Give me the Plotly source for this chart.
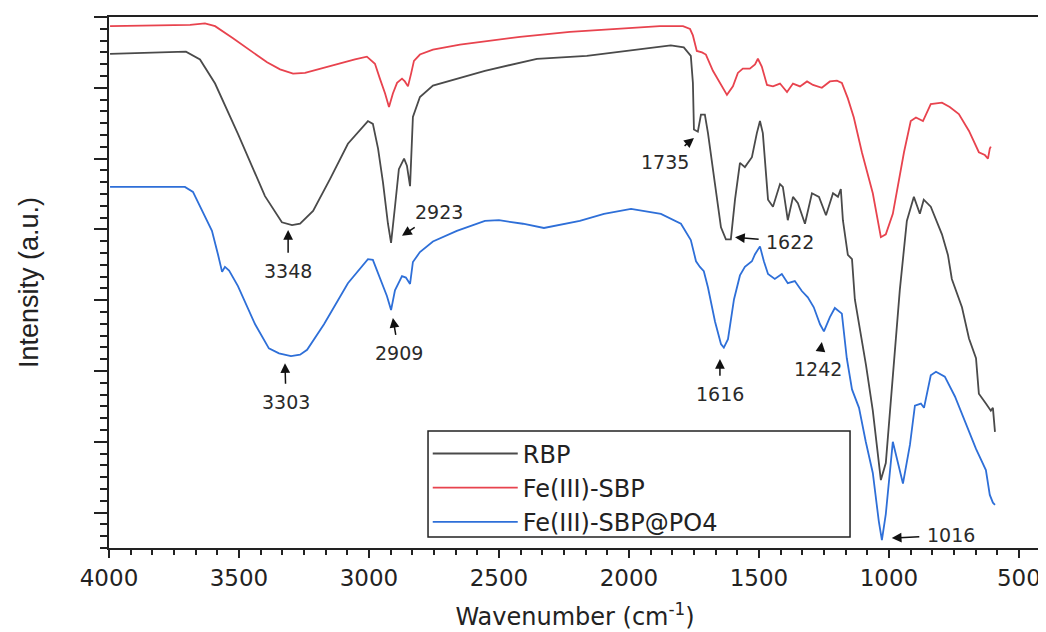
import plotly.graph_objects as go

# ---------------- data (wavenumber cm^-1, intensity a.u.) ----------------
wn_rbp = [3996, 3842, 3704, 3650, 3592, 3504, 3400, 3335, 3296, 3265, 3215, 3150, 3081, 3004,
          2985, 2965, 2946, 2927, 2915, 2900, 2885, 2865, 2854, 2842, 2831, 2804, 2754, 2554,
          2354, 2162, 1839, 1789, 1762, 1754, 1750, 1735, 1723, 1708, 1696, 1669, 1646, 1627,
          1608, 1592, 1573, 1554, 1527, 1508, 1496, 1485, 1465, 1446, 1419, 1408, 1389, 1369,
          1350, 1323, 1296, 1269, 1242, 1215, 1196, 1185, 1177, 1158, 1142, 1131, 1115, 1088,
          1062, 1031, 1012, 985, 958, 931, 904, 881, 866, 839, 796, 773, 758, 719, 692, 665,
          654, 627, 608, 600, 592]
int_rbp = [6.98, 7.00, 7.01, 6.90, 6.56, 5.85, 4.97, 4.60, 4.56, 4.58, 4.76, 5.21, 5.71, 6.03,
           5.99, 5.64, 5.16, 4.58, 4.31, 4.82, 5.35, 5.50, 5.40, 5.11, 6.09, 6.37, 6.53, 6.74,
           6.91, 6.95, 7.10, 7.07, 6.95, 6.57, 5.91, 5.88, 6.12, 6.12, 5.86, 5.14, 4.53, 4.36,
           4.36, 4.92, 5.44, 5.38, 5.52, 5.86, 6.03, 5.86, 4.92, 4.82, 5.14, 5.10, 4.63, 4.96,
           4.87, 4.58, 5.01, 4.96, 4.70, 5.01, 4.96, 5.07, 4.63, 4.14, 4.08, 3.51, 3.16, 2.58,
           1.94, 0.96, 1.20, 2.42, 3.65, 4.62, 4.96, 4.72, 4.92, 4.82, 4.43, 4.14, 3.80, 3.40,
           2.96, 2.68, 2.18, 2.04, 1.94, 1.98, 1.64]

wn_sbp = [3996, 3842, 3688, 3631, 3592, 3523, 3458, 3392, 3342, 3292, 3246, 3188, 3112, 3054,
          3008, 2977, 2958, 2938, 2923, 2908, 2892, 2873, 2862, 2850, 2838, 2827, 2804, 2754,
          2650, 2535, 2419, 2227, 2035, 1881, 1792, 1765, 1754, 1739, 1719, 1704, 1677, 1650,
          1623, 1600, 1581, 1562, 1535, 1515, 1504, 1489, 1469, 1446, 1419, 1392, 1369, 1342,
          1315, 1292, 1258, 1227, 1200, 1181, 1158, 1135, 1104, 1062, 1031, 1012, 985, 942,
          916, 896, 885, 869, 839, 796, 766, 731, 692, 654, 631, 619, 612, 608]
int_sbp = [7.37, 7.38, 7.39, 7.41, 7.37, 7.20, 7.03, 6.86, 6.76, 6.70, 6.71, 6.77, 6.84, 6.90,
           6.94, 6.84, 6.63, 6.42, 6.23, 6.42, 6.57, 6.63, 6.59, 6.52, 6.70, 6.88, 6.97, 7.04,
           7.11, 7.17, 7.22, 7.29, 7.34, 7.37, 7.37, 7.33, 7.24, 7.02, 7.00, 6.97, 6.74, 6.56,
           6.40, 6.52, 6.71, 6.77, 6.77, 6.83, 6.91, 6.80, 6.54, 6.52, 6.56, 6.44, 6.56, 6.52,
           6.59, 6.54, 6.50, 6.59, 6.60, 6.57, 6.35, 6.08, 5.59, 5.01, 4.39, 4.43, 4.72, 5.59,
           6.03, 6.08, 6.06, 6.03, 6.27, 6.29, 6.23, 6.13, 5.89, 5.59, 5.55, 5.50, 5.64, 5.67]

wn_po4 = [3996, 3842, 3708, 3677, 3638, 3604, 3581, 3565, 3554, 3538, 3504, 3438, 3385, 3346,
          3300, 3265, 3238, 3173, 3081, 3004, 2985, 2950, 2931, 2915, 2900, 2873, 2858, 2842,
          2831, 2804, 2754, 2662, 2554, 2500, 2408, 2327, 2250, 2189, 2096, 1992, 1877, 1800,
          1762, 1742, 1727, 1712, 1696, 1669, 1646, 1635, 1619, 1596, 1573, 1554, 1527, 1515,
          1496, 1481, 1465, 1439, 1412, 1389, 1362, 1335, 1312, 1289, 1265, 1250, 1227, 1208,
          1181, 1162, 1142, 1115, 1089, 1062, 1039, 1027, 1012, 985, 946, 919, 900, 877, 865,
          839, 819, 785, 746, 704, 665, 627, 612, 600, 592]
int_po4 = [5.10, 5.10, 5.10, 5.03, 4.73, 4.48, 4.15, 3.90, 3.97, 3.92, 3.70, 3.16, 2.82, 2.75,
           2.71, 2.73, 2.80, 3.16, 3.74, 4.08, 4.07, 3.74, 3.56, 3.36, 3.64, 3.84, 3.82, 3.73,
           4.04, 4.18, 4.33, 4.48, 4.62, 4.63, 4.58, 4.52, 4.58, 4.62, 4.72, 4.79, 4.72, 4.58,
           4.35, 4.05, 3.97, 3.91, 3.68, 3.20, 2.88, 2.83, 2.95, 3.51, 3.85, 3.97, 4.05, 4.15,
           4.26, 4.05, 3.87, 3.80, 3.87, 3.74, 3.77, 3.63, 3.54, 3.40, 3.16, 3.06, 3.26, 3.39,
           3.31, 2.68, 2.24, 1.98, 1.50, 1.06, 0.38, 0.11, 0.48, 1.50, 0.91, 1.46, 2.01, 2.04,
           1.98, 2.44, 2.49, 2.42, 2.14, 1.77, 1.40, 1.10, 0.75, 0.64, 0.61]

series_names = ["RBP", "Fe(III)-SBP", "Fe(III)-SBP@PO4"]
series_colors = ["#4a4a4a", "#e8434e", "#2e6fd8"]

# peak labels: text, arrow tip (wn, y), label position (wn, y)
peak_labels = ["3348", "2923", "1735", "1622", "3303", "2909", "1616", "1242", "1016"]
tip_wn = [3311, 2873, 1750, 1592, 3323, 2908, 1650, 1258, 989]
tip_y = [4.49, 4.41, 5.79, 4.39, 2.61, 3.25, 2.67, 2.91, 0.14]
text_wn = [3311, 2731, 1862, 1380, 3319, 2885, 1650, 1273, 762]
text_y = [3.91, 4.75, 5.45, 4.32, 2.06, 2.75, 2.17, 2.53, 0.18]

fig = go.Figure()
for wn, iy, name, col in zip([wn_rbp, wn_sbp, wn_po4], [int_rbp, int_sbp, int_po4],
                             series_names, series_colors):
    fig.add_trace(go.Scatter(x=wn, y=iy, mode="lines", name=name,
                             line=dict(color=col, width=1.8)))

for t, tx, ty, lx, ly in zip(peak_labels, tip_wn, tip_y, text_wn, text_y):
    fig.add_annotation(x=tx, y=ty, ax=lx, ay=ly, axref="x", ayref="y", xref="x", yref="y",
                       text=t, showarrow=True, arrowhead=2, arrowsize=1.3, arrowwidth=1.5,
                       arrowcolor="#111111", startstandoff=6,
                       font=dict(family="DejaVu Sans", size=19, color="#2a2a2a"))

# legend frame
fig.add_shape(type="rect", xref="paper", yref="paper", x0=0.3423, x1=0.7951, y0=0.0207, y1=0.2203,
              line=dict(color="#222222", width=1.5), fillcolor="rgba(0,0,0,0)", layer="above")

# the page body adds an 8 px offset, so the figure is 8 px smaller and margins shifted
fig.update_layout(
    width=1038, height=624,
    margin=dict(l=101, r=5, t=9, b=84),
    plot_bgcolor="white", paper_bgcolor="white",
    font=dict(family="DejaVu Sans", color="#222222"),
    showlegend=True,
    legend=dict(x=0.342, y=0.2196, xanchor="left", yanchor="top", bgcolor="rgba(0,0,0,0)",
                borderwidth=0, font=dict(family="DejaVu Sans", size=24, color="#222222"),
                itemwidth=85, tracegroupgap=0),
    xaxis=dict(range=[4000, 415], tickmode="linear", tick0=0, dtick=500,
               ticks="outside", ticklen=8, tickwidth=2, tickcolor="#222222",
               showline=True, linecolor="#222222", linewidth=2, mirror=True,
               showgrid=False, zeroline=False, automargin=False,
               tickfont=dict(family="DejaVu Sans", size=23, color="#222222"),
               minor=dict(dtick=500 / 6, ticks="outside", ticklen=5, tickwidth=1.5,
                          tickcolor="#222222"),
               title=dict(text="Wavenumber (cm<sup>-1</sup>)", standoff=19,
                          font=dict(family="DejaVu Sans", size=24, color="#222222"))),
    yaxis=dict(range=[0, 7.5], tickmode="linear", tick0=0.5, dtick=1,
               ticks="outside", ticklen=13, tickwidth=2, tickcolor="#222222",
               showticklabels=False, automargin=False,
               showline=True, linecolor="#222222", linewidth=2, mirror=True,
               showgrid=False, zeroline=False,
               minor=dict(dtick=1 / 6, ticks="outside", ticklen=7, tickwidth=1.5,
                          tickcolor="#222222"),
               title=dict(text="Intensity (a.u.)", standoff=48,
                          font=dict(family="Liberation Sans", size=27, color="#222222"))),
)

fig.write_html("out.html")
